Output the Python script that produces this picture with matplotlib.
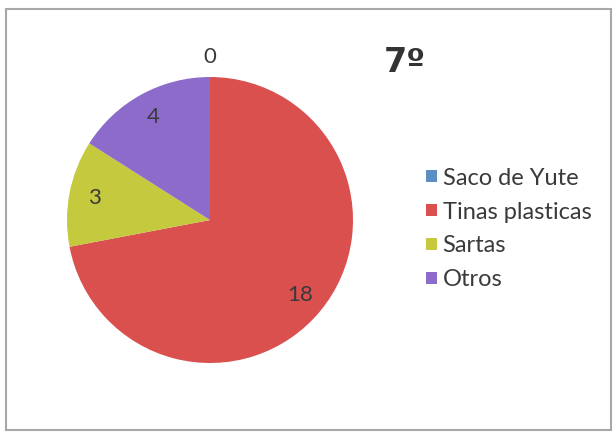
import numpy as np
import matplotlib.pyplot as plt
from matplotlib.patches import Rectangle, Patch

# data
categories = ['Saco de Yute', 'Tinas plasticas', 'Sartas', 'Otros']
values = [0, 18, 3, 4]
colors = ['#5B8FC4', '#D9504F', '#C5C93E', '#8C6BCA']
title = '7º'

W, H = 616, 432
fig = plt.figure(figsize=(W / 100, H / 100), dpi=100)
plt.rcParams['font.family'] = ['Lato', 'DejaVu Sans']

# chart border
fig.patches.append(Rectangle((6 / W, 2 / H), 605 / W, 421 / H, transform=fig.transFigure,
                             fill=False, edgecolor='#A8A8A8', linewidth=1.5))

# pie axes: center ~ (210, 220) px, radius ~ 143 px
cx, cy, r = 210, 220, 143
ax = fig.add_axes([(cx - r) / W, (H - cy - r) / H, 2 * r / W, 2 * r / H])
wedges, texts = ax.pie(values, colors=colors, startangle=90, counterclock=False,
                       labels=[str(v) for v in values], labeldistance=0.82,
                       wedgeprops=dict(linewidth=0),
                       textprops=dict(fontsize=16, color='#3A3A3A', ha='center', va='center'))
ax.set_xlim(-1, 1)
ax.set_ylim(-1, 1)
for w, t, v in zip(wedges, texts, values):
    t.set_clip_on(False)
    t.set_horizontalalignment('center')
    if v == 0:
        # zero slice: label goes just outside the pie
        ang = np.deg2rad((w.theta1 + w.theta2) / 2)
        t.set_position((1.14 * np.cos(ang), 1.14 * np.sin(ang)))

fig.text(384 / W, 1 - 62 / H, title, fontsize=24, fontweight='bold', color='#333333',
         ha='left', va='center', family=['DejaVu Sans'])

handles = [Patch(facecolor=c, edgecolor='none') for c in colors]
fig.legend(handles, categories, loc='center left', bbox_to_anchor=(426 / W, 1 - 229 / H),
           frameon=False, fontsize=17, handlelength=0.45, handleheight=0.45,
           handletextpad=0.25, labelspacing=0.55, borderpad=0, borderaxespad=0,
           labelcolor='#3A3A3A')

fig.savefig('out.png', dpi=100)
